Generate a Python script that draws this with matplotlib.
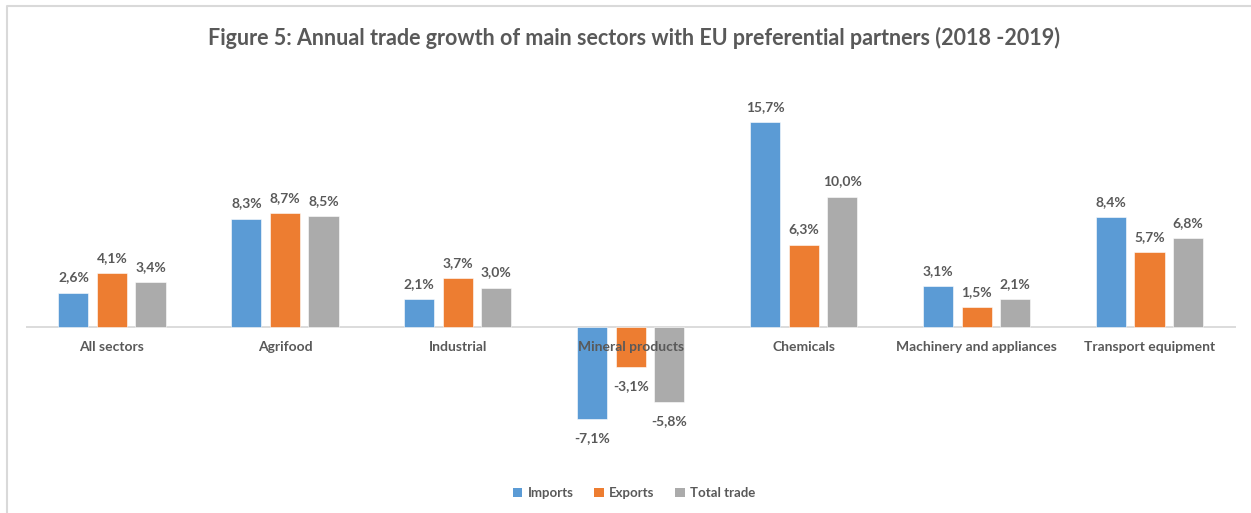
import matplotlib.pyplot as plt
from matplotlib.lines import Line2D
from matplotlib.patches import Patch
import numpy as np

# data
sectors = ["All sectors", "Agrifood", "Industrial", "Mineral products",
           "Chemicals", "Machinery and appliances", "Transport equipment"]
imports = [2.6, 8.3, 2.1, -7.1, 15.7, 3.1, 8.4]
exports = [4.1, 8.7, 3.7, -3.1, 6.3, 1.5, 5.7]
total_trade = [3.4, 8.5, 3.0, -5.8, 10.0, 2.1, 6.8]
series_names = ["Imports", "Exports", "Total trade"]
title = "Figure 5: Annual trade growth of main sectors with EU preferential partners (2018 -2019)"

colors = ["#5B9BD5", "#ED7D31", "#ABABAB"]
text_color = "#595959"

plt.rcParams['font.family'] = ['Lato', 'DejaVu Sans']

W, H = 1251, 513
fig = plt.figure(figsize=(W / 100, H / 100), dpi=100)

# plot area in pixels
left, right, top, bottom = 25.5, 1236, 66.5, 456.5
ax = fig.add_axes([left / W, 1 - bottom / H, (right - left) / W, (bottom - top) / H])
ax.set_xlim(-0.5, len(sectors) - 0.5)
ax.set_ylim(-10, 20)
ax.axis("off")

x = np.arange(len(sectors))
width = 0.174
step = 0.223
for k, (vals, col) in enumerate(zip([imports, exports, total_trade], colors)):
    pos = x + (k - 1) * step
    ax.bar(pos, vals, width=width, color=col, edgecolor="white", linewidth=0.4, zorder=2)
    for px, v in zip(pos, vals):
        lab = f"{v:.1f}%".replace(".", ",")
        off = 11 if v >= 0 else -13.7
        ax.annotate(lab, (px, v), xytext=(0, off), textcoords="offset points",
                    ha="center", va="center", fontsize=10, fontweight="bold",
                    color=text_color)

ax.axhline(0, color="#D9D9D9", linewidth=1.3, zorder=1)

for xi, name in zip(x, sectors):
    ax.annotate(name, (xi, 0), xytext=(0, -14.8), textcoords="offset points",
                ha="center", va="center", fontsize=10, fontweight="bold",
                color=text_color, zorder=3)

fig.text(634 / W, 1 - 38 / H, title, ha="center", va="center",
         fontsize=15.5, fontweight="bold", color=text_color)

handles = [Patch(facecolor=c, edgecolor="none") for c in colors]
fig.legend(handles, series_names, loc="center", bbox_to_anchor=(634 / W, 1 - 493 / H),
           ncol=3, frameon=False, handlelength=0.7, handleheight=0.7,
           handletextpad=0.4, columnspacing=1.6,
           prop={"size": 9.5, "weight": "bold"}, labelcolor=text_color)

# chart border
fig.add_artist(Line2D([7 / W, 7 / W, 1.0], [0.0, 1 - 6 / H, 1 - 6 / H],
                      transform=fig.transFigure, color="#D9D9D9", linewidth=1.5))

fig.savefig("out.png", dpi=100, facecolor="white")
